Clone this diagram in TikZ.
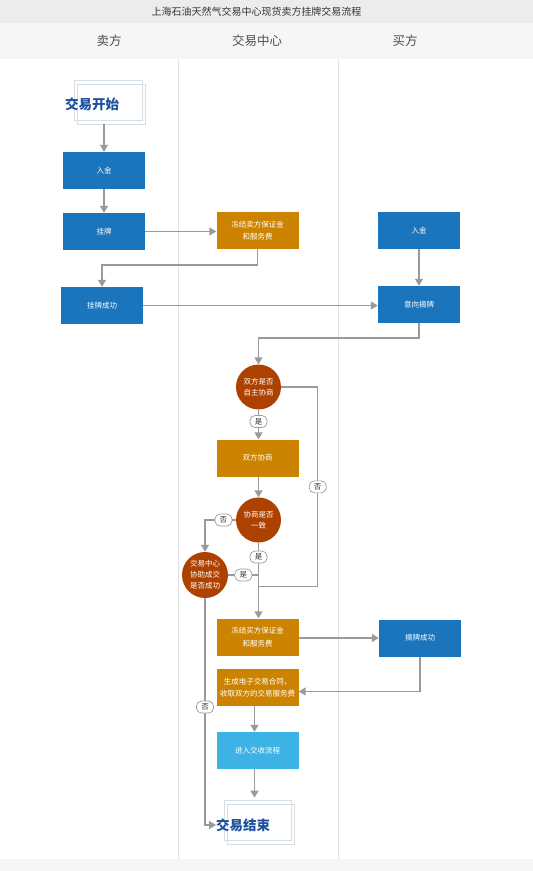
\documentclass[tikz,border=0pt]{standalone}
\usepackage{fontspec}
\setmainfont{Noto Sans CJK SC}
\usetikzlibrary{arrows.meta,positioning,calc}
\definecolor{bluebox}{HTML}{1A75BC}
\definecolor{orangebox}{HTML}{CC8400}
\definecolor{circ}{HTML}{AD4100}
\definecolor{lightblue}{HTML}{3CB3E4}
\definecolor{arrgray}{HTML}{9A9A9A}
\definecolor{titlebg}{HTML}{ECECEC}
\definecolor{headbg}{HTML}{F6F6F6}
\definecolor{lanec}{HTML}{E2E2E2}
\definecolor{darkblue}{HTML}{1C4F9E}
\definecolor{framec}{HTML}{D6DEE6}
\begin{document}
\begin{tikzpicture}[x=1pt,y=-1pt,
  box/.style={rectangle, minimum width=82pt, minimum height=37pt, inner sep=1pt, text=white, font=\fontsize{7.5}{12.3}\selectfont, align=center},
  bbox/.style={box, fill=bluebox},
  obox/.style={box, fill=orangebox},
  lbox/.style={box, fill=lightblue},
  cnode/.style={circle, fill=circ, minimum size=45pt, inner sep=0pt, text=white, font=\fontsize{7.5}{11}\selectfont, align=center},
  line/.style={draw=arrgray, line width=1.5pt},
  arr/.style={line, -{Triangle[width=8pt,length=7pt]}},
  lbl/.style={draw=arrgray, fill=white, rounded corners=5pt, inner sep=0pt, minimum width=17pt, minimum height=12pt, font=\fontsize{7.5}{7.5}\selectfont, text=black!80, line width=0.7pt},
  frame/.style={draw=framec, line width=0.7pt, fill=none, minimum width=68pt, minimum height=40pt, inner sep=0pt},
  endtxt/.style={font=\fontsize{13.5}{13.5}\selectfont\bfseries, text=darkblue, inner sep=0pt},
  headtxt/.style={font=\fontsize{12.5}{12.5}\selectfont, text=black!70},
  lanel/.style={draw=lanec, line width=0.8pt}
]
\useasboundingbox (0,0) rectangle (533,871);
\fill[titlebg] (0,0) rectangle (533,23);
\fill[headbg] (0,23) rectangle (533,59);
\fill[headbg] (0,859) rectangle (533,871);
\draw[lanel] (178,59) -- (178,859);
\draw[lanel] (338,59) -- (338,859);

\node[font=\fontsize{10}{10}\selectfont, text=black!80] (title) at (256.5,11.5) {上海石油天然气交易中心现货卖方挂牌交易流程};
\node[headtxt] (h1) at (109,41) {卖方};
\node[headtxt] (h2) at (257,41) {交易中心};
\node[headtxt] (h3) at (405,41) {买方};

% start
\node[frame] (startf) at (108,100) {};
\node[frame] (startf2) at (111,104) {};
\node[endtxt, anchor=west] (starttext) at (65,104) {交易开始};

\node[bbox] (s1) at (104,170.5) {入金};
\node[bbox] (s2) at (104,231.5) {挂牌};
\node[obox] (f1) at (257.5,230.5) {冻结卖方保证金\\和服务费};
\node[bbox] (b1) at (419,230.5) {入金};
\node[bbox] (ss) at (102,305.5) {挂牌成功};
\node[bbox] (ij) at (419,304.5) {意向摘牌};

\node[cnode] (c1) at (258.5,387) {双方是否\\自主协商};
\node[obox] (xs) at (257.5,458) {双方协商};
\node[cnode] (c2) at (258.5,520) {协商是否\\一致};
\node[cnode, minimum size=46pt] (c3) at (205,575) {交易中心\\协助成交\\是否成功};

\node[obox] (fm) at (257.5,637) {冻结买方保证金\\和服务费};
\node[bbox] (zc) at (420,638) {摘牌成功};
\node[obox] (sc) at (257.5,687.5) {生成电子交易合同，\\收取双方的交易服务费};
\node[lbox] (jr) at (257.5,750.5) {进入交收流程};

\node[frame, minimum width=67pt] (endf) at (257.5,820) {};
\node[frame, minimum width=67pt] (endf2) at (260.5,824) {};
\node[endtxt, anchor=west] (endtext) at (216,825) {交易结束};

% connectors
\draw[arr] (startf2.south -| s1.north) -- (s1.north);
\draw[arr] (s1.south) -- (s2.north);
\draw[arr] (s2.east) -- (s2.east -| f1.west);
\draw[arr] (f1.south) -- ++(0,16) -| (ss.north);
\draw[arr] (ss.east) -- (ss.east -| ij.west);
\draw[arr] (b1.south) -- (ij.north);
\draw[arr] (ij.south) -- ++(0,15) -| (c1.north);
\draw[arr] (c1.south) -- (c1.south |- xs.north) node[lbl, pos=0.4] (y1) {是};
\draw[arr] (xs.south -| c2.north) -- (c2.north);
\draw[arr] (c2.south) -- (c2.south |- fm.north) node[lbl, pos=0.19] (y2) {是};
\draw[arr] (c2.west) -| (c3.north) node[lbl, pos=0.2] (n2) {否};
\coordinate (j1) at ($(c3.east -| c2.south)$);
\draw[line] (c3.east) -- (j1) node[lbl, pos=0.5] (y3) {是};
\coordinate (j2) at ($(c2.south)+(0,44)$);
\draw[line] (c1.east) -- ++(36.5,0) |- (j2) node[lbl, pos=0.25] (n1) {否};
\draw[arr] (fm.east |- zc.west) -- (zc.west);
\draw[arr] (zc.south) |- ($(sc.east)+(0,4)$);
\draw[arr] ($(sc.south)+(-3,0)$) -- ($(jr.north)+(-3,0)$);
\draw[arr] ($(jr.south)+(-3,0)$) -- ($(jr.south |- endf.north)+(-3,-2)$);
\draw[arr] (c3.south) |- (endtext.west) node[lbl, pos=0.24] (n3) {否};
\end{tikzpicture}
\end{document}
